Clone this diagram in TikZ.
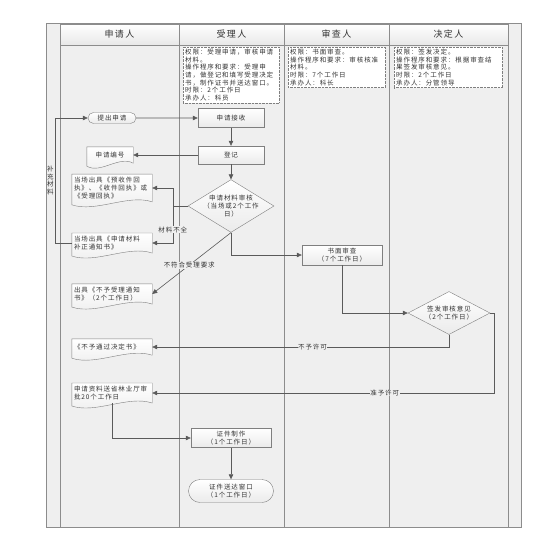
\documentclass[tikz,border=0pt]{standalone}
\usepackage{fontspec}
\setmainfont{Noto Sans CJK SC}[LetterSpace=14]
\usetikzlibrary{arrows.meta,positioning,calc,shapes.geometric,shapes.misc}
\definecolor{lanebg}{HTML}{EFEFEF}
\definecolor{laneline}{HTML}{8C8C8C}
\definecolor{flowline}{HTML}{5A5A5A}
\definecolor{boxline}{HTML}{7F7F7F}
\definecolor{inktext}{HTML}{333333}
\pgfdeclarelayer{back}
\pgfsetlayers{back,main}

\begin{document}
\begin{tikzpicture}[
  x=1pt, y=-1pt,
  font=\fontsize{6.5}{7.6}\selectfont,
  text=inktext,
  lane/.style={draw=laneline, line width=0.9pt, fill=lanebg},
  head/.style={draw=laneline, line width=0.9pt, top color=white, bottom color=gray!18, minimum height=21pt, inner sep=0pt, font=\fontsize{9}{10}\selectfont},
  info/.style={draw=boxline, densely dotted, fill=white, align=left, anchor=north west, inner sep=2pt},
  proc/.style={draw=boxline, top color=white, bottom color=gray!16, align=center, minimum width=66pt, minimum height=19pt, inner sep=1pt},
  term/.style={proc, rounded rectangle},
  check/.style={diamond, draw=boxline, top color=white, bottom color=gray!16, align=center, inner sep=-6pt},
  doc/.style={align=left, inner xsep=2pt, inner ysep=3pt},
  docline/.style={draw=boxline, top color=white, bottom color=gray!14},
  arrow/.style={draw=flowline, line width=0.6pt, -{Triangle[length=5pt,width=4.5pt]}},
  note/.style={fill=lanebg, inner sep=0.5pt}
]
\useasboundingbox (0,0) rectangle (555,557);

\begin{pgfonlayer}{back}
\draw[lane] (46,23) rectangle (521,527);
\foreach \a/\b in {60/179,179/284,284/389,389/508}
  \draw[lane] (\a,24) rectangle (\b,527);
\end{pgfonlayer}

\node[head, minimum width=119pt] (hsq) at (119.5,34.5) {申请人};
\node[head, minimum width=105pt] (hsl) at (231.5,34.5) {受理人};
\node[head, minimum width=105pt] (hsc) at (336.5,34.5) {审查人};
\node[head, minimum width=119pt] (hjd) at (448.5,34.5) {决定人};

\node[info, text width=92pt] (qxsl) at (183,47) {权限：受理申请，审核申请\\材料。\\操作程序和要求：受理申\\请，做登记和填写受理决定\\书，制作证书并送达窗口。\\时限：2个工作日\\承办人：科员};
\node[info, text width=93pt] (qxsc) at (288,47) {权限：书面审查。\\操作程序和要求：审核核准\\材料。\\时限：7个工作日\\承办人：科长};
\node[info, text width=104pt] (qxjd) at (394,47) {权限：签发决定。\\操作程序和要求：根据审查结\\果签发审核意见。\\时限：2个工作日\\承办人：分管领导};

\node[term, minimum width=50pt, minimum height=11pt] (tichu) at (112,118) {提出申请};
\node[proc] (jieshou) at (231,118) {申请接收};
\node[proc, minimum height=18pt] (dengji) at (231,155) {登记};
\node[doc, minimum width=46pt, minimum height=16pt, align=center] (bianhao) at (110,155) {申请编号};
\node[check, minimum width=86pt, minimum height=43pt] (shenhe) at (231,206) {申请材料审核\\（当场或2个工作\\日）};
\node[doc, text width=76pt] (huizhi) at (112,188) {当场出具《预收件回\\执》、《收件回执》或\\《受理回执》};
\node[doc, text width=76pt] (buzheng) at (112,243) {当场出具《申请材料\\补正通知书》};
\node[doc, text width=76pt] (buyu) at (112,294) {出具《不予受理通知\\书》（2个工作日）};
\node[proc, minimum width=80pt, minimum height=20pt] (shumian) at (342,255) {书面审查\\（7个工作日）};
\node[check, minimum width=82pt, minimum height=43pt] (qianfa) at (449,313) {签发审核意见\\（2个工作日）};
\node[doc, text width=76pt, minimum height=16pt] (butongguo) at (112,347) {《不予通过决定书》};
\node[doc, text width=76pt] (songshen) at (112,393) {申请资料送省林业厅审\\批20个工作日};
\node[proc, minimum width=80pt] (zhizuo) at (231,438) {证件制作\\（1个工作日）};
\node[term, minimum width=87pt, minimum height=23pt] (songda) at (231,491) {证件送达窗口\\（1个工作日）};

\begin{pgfonlayer}{back}
\foreach \d in {bianhao,huizhi,buzheng,buyu,butongguo,songshen}
  \path[docline] (\d.north west) -- (\d.north east) -- (\d.south east)
    .. controls ($(\d.south west)!.7!(\d.south east)+(0,-8)$) and ($(\d.south west)!.3!(\d.south east)+(0,11)$) .. ($(\d.south west)+(0,3)$) -- cycle;
\end{pgfonlayer}

\draw[arrow] (tichu) -- (jieshou);
\draw[arrow] (jieshou) -- (dengji);
\draw[arrow] (dengji) -- (bianhao);
\draw[arrow] (dengji) -- (shenhe);
\draw[arrow] (shenhe.west) -- ++(-15,0) coordinate (quan) |- (huizhi.east);
\draw[arrow] (quan) |- (buzheng.east) node[note, pos=0.32] {材料不全};
\draw[arrow] (shenhe.south) -- (buyu.east) node[note, pos=0.53] {不符合受理要求};
\draw[arrow] (shenhe.south) |- (shumian.west);
\draw[arrow] (shumian.south) |- (qianfa.west);
\draw[arrow] (qianfa.south) |- (butongguo.east) node[note, pos=0.73] {不予许可};
\draw[arrow] (qianfa.east) -- ++(4,0) coordinate (zhun) |- (songshen.east) node[note, pos=0.66] {准予许可};
\draw[arrow] (songshen.south) |- (zhizuo.west);
\draw[arrow] (zhizuo) -- (songda);
\draw[arrow] (buzheng.west) -- ++(-17,0) coordinate (bu) |- (tichu.west) node[pos=0.25, anchor=east, inner sep=1pt, align=center] {补\\充\\材\\料};
\end{tikzpicture}
\end{document}
